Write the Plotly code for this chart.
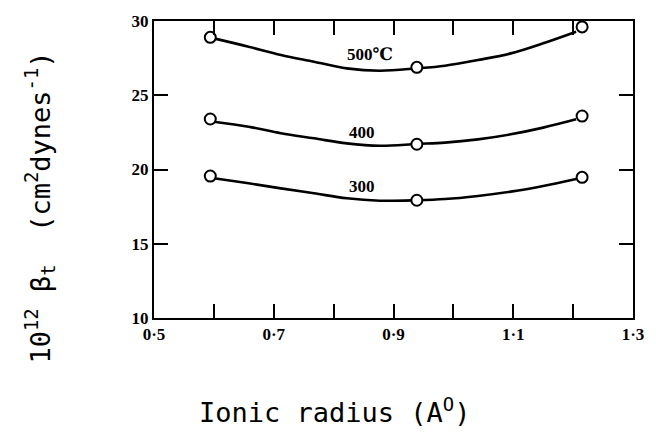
import plotly.graph_objects as go

# measured points (ionic radius, 10^12 beta_t)
radius_pts = [0.594, 0.939, 1.215]
beta_500 = [28.9, 26.88, 29.6]
beta_400 = [23.4, 21.7, 23.6]
beta_300 = [19.56, 17.93, 19.47]

# drawn smooth curves
curve_x = [0.600, 0.658, 0.712, 0.767, 0.822, 0.877, 0.939, 0.986, 1.041, 1.096, 1.150, 1.205]
curve_500 = [28.83, 28.27, 27.71, 27.26, 26.81, 26.65, 26.81, 26.99, 27.37, 27.82, 28.50, 29.28]
curve_400 = [23.22, 22.88, 22.44, 22.10, 21.76, 21.60, 21.72, 21.81, 22.03, 22.37, 22.82, 23.38]
curve_300 = [19.41, 19.07, 18.73, 18.40, 18.06, 17.90, 17.93, 18.01, 18.22, 18.51, 18.89, 19.36]

curve_labels = ["500℃", "400", "300"]
label_x = [0.86, 0.847, 0.847]
label_y = [27.75, 22.5, 18.85]

x_tickvals = [0.5, 0.6, 0.7, 0.8, 0.9, 1.0, 1.1, 1.2, 1.3]
x_ticktext = ["0·5", "", "0·7", "", "0·9", "", "1·1", "", "1·3"]
y_tickvals = [10, 15, 20, 25, 30]
y_ticktext = ["10", "15", "20", "25", "30"]

fig = go.Figure()
for cy in [curve_500, curve_400, curve_300]:
    fig.add_trace(go.Scatter(x=curve_x, y=cy, mode="lines",
                             line=dict(color="black", width=2.6, shape="spline"),
                             showlegend=False, hoverinfo="skip"))
for py in [beta_500, beta_400, beta_300]:
    fig.add_trace(go.Scatter(x=radius_pts, y=py, mode="markers",
                             marker=dict(symbol="circle", size=11, color="white",
                                         line=dict(color="black", width=2)),
                             showlegend=False))

for t, lx, ly in zip(curve_labels, label_x, label_y):
    fig.add_annotation(x=lx, y=ly, text=t, showarrow=False,
                       font=dict(family="Liberation Serif, DejaVu Serif", size=17,
                                 color="black", weight="bold"))

fig.add_annotation(xref="paper", yref="paper", x=0.376, y=-0.31, xanchor="center",
                   yanchor="middle",
                   text="Ionic radius (A<sup>O</sup>)", showarrow=False,
                   font=dict(family="DejaVu Sans Mono", size=27, color="black"))
fig.add_annotation(xref="paper", yref="paper", x=-0.238, y=0.372, xanchor="center",
                   yanchor="middle",
                   text="10<sup>12</sup> β<sub>t</sub>  (cm<sup>2</sup>dynes<sup>-1</sup>)",
                   textangle=-90, showarrow=False,
                   font=dict(family="DejaVu Sans Mono", size=27, color="black"))

axis_common = dict(showgrid=False, zeroline=False, showline=True, linecolor="black",
                   linewidth=2, mirror="ticks", ticks="inside", ticklen=14,
                   tickwidth=2, tickcolor="black",
                   tickfont=dict(family="Liberation Serif, DejaVu Serif", size=17,
                                 color="black", weight="bold"))
fig.update_xaxes(range=[0.5, 1.3], tickvals=x_tickvals, ticktext=x_ticktext, **axis_common)
fig.update_yaxes(range=[10, 30], tickvals=y_tickvals, ticktext=y_ticktext, **axis_common)

fig.update_layout(width=656, height=437, margin=dict(l=154, r=15, t=20, b=119),
                  plot_bgcolor="white", paper_bgcolor="white")
fig.write_html("out.html")
